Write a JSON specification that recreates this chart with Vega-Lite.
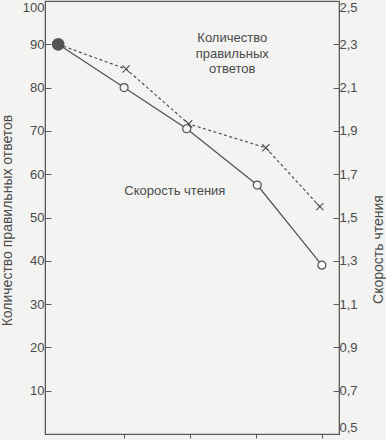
{
  "$schema": "https://vega.github.io/schema/vega-lite/v6.json",
  "width": 294,
  "height": 433,
  "autosize": "none",
  "padding": {"left": 45, "top": 1, "right": 47, "bottom": 6},
  "background": "#f3f3f1",
  "config": {
    "view": {"stroke": "#5a5a5a", "strokeWidth": 1.2},
    "font": "Liberation Sans",
    "axis": {"grid": false, "domainColor": "#5a5a5a", "tickColor": "#5a5a5a", "labelColor": "#4a4a4a", "titleColor": "#4a4a4a", "labelFontSize": 13, "titleFontSize": 14, "titleFontWeight": "normal", "labelFont": "Liberation Sans", "titleFont": "Liberation Sans"}
  },
  "datasets": {
    "series": [
      {"series": "answers", "x": 1, "value": 90},
      {"series": "answers", "x": 2.03, "value": 84.3},
      {"series": "answers", "x": 2.98, "value": 71.6},
      {"series": "answers", "x": 4.15, "value": 66.1},
      {"series": "answers", "x": 4.97, "value": 52.5},
      {"series": "speed", "x": 1, "value": 2.3},
      {"series": "speed", "x": 2.0, "value": 2.1},
      {"series": "speed", "x": 2.95, "value": 1.91},
      {"series": "speed", "x": 4.02, "value": 1.65},
      {"series": "speed", "x": 5.0, "value": 1.28}
    ],
    "labels": [
      {"label": "Количество\nправильных\nответов", "x": 3.64, "value": 91.4},
      {"label": "Скорость чтения", "x": 2.77, "value": 56.1}
    ]
  },
  "encoding": {
    "x": {"field": "x", "type": "quantitative", "scale": {"domain": [0.8, 5.26], "nice": false, "zero": false},
      "axis": {"title": null, "labels": false, "values": [2, 3, 4, 5], "tickSize": 4, "domain": true}}
  },
  "layer": [
    {
      "encoding": {
        "y": {"field": "value", "type": "quantitative", "scale": {"domain": [0, 100], "nice": false},
          "axis": {"orient": "left", "values": [10,20,30,40,50,60,70,80,90,100], "tickSize": -6, "labelPadding": 7, "labelFlush": true,
            "title": "Количество правильных ответов", "titleX": -38, "titleY": 219, "titleAngle": 270, "titleAlign": "center", "titleBaseline": "middle"}}
      },
      "layer": [
        {"data": {"name": "series"}, "transform": [{"filter": "datum.series == 'answers'"}],
          "mark": {"type": "line", "color": "#505050", "strokeWidth": 1.2, "strokeDash": [3, 2.5]}},
        {"data": {"name": "series"}, "transform": [{"filter": "datum.series == 'answers' && datum.x > 1"}],
          "mark": {"type": "point", "shape": "M-1,-1L1,1M-1,1L1,-1", "size": 50, "filled": false, "stroke": "#505050", "strokeWidth": 1.1, "opacity": 1}},
        {"data": {"name": "series"}, "transform": [{"filter": "datum.series == 'answers' && datum.x == 1"}],
          "mark": {"type": "point", "shape": "circle", "size": 160, "filled": true, "color": "#555555", "opacity": 1}},
        {"data": {"name": "labels"},
          "mark": {"type": "text", "fontSize": 13, "color": "#4a4a4a", "lineBreak": "\n", "lineHeight": 15.5, "align": "center", "baseline": "middle", "font": "Liberation Sans"},
          "encoding": {"text": {"field": "label"}}}
      ]
    },
    {
      "data": {"name": "series"},
      "transform": [{"filter": "datum.series == 'speed'"}],
      "encoding": {
        "y": {"field": "value", "type": "quantitative", "scale": {"domain": [0.5, 2.5], "nice": false, "zero": false},
          "axis": {"orient": "right", "values": [0.5,0.7,0.9,1.1,1.3,1.5,1.7,1.9,2.1,2.3,2.5], "tickSize": -6, "labelPadding": 6, "labelFlush": true,
            "labelExpr": "replace(format(datum.value, '.1f'), '.', ',')",
            "title": "Скорость чтения", "titleX": 39, "titleY": 248, "titleAngle": 270, "titleAlign": "center", "titleBaseline": "middle"}}
      },
      "layer": [
        {"mark": {"type": "line", "color": "#505050", "strokeWidth": 1.2}},
        {"transform": [{"filter": "datum.x > 1"}],
          "mark": {"type": "point", "shape": "circle", "size": 64, "filled": true, "fill": "#f7f7f5", "stroke": "#505050", "strokeWidth": 1.2, "opacity": 1}}
      ]
    }
  ],
  "resolve": {"scale": {"y": "independent"}}
}
